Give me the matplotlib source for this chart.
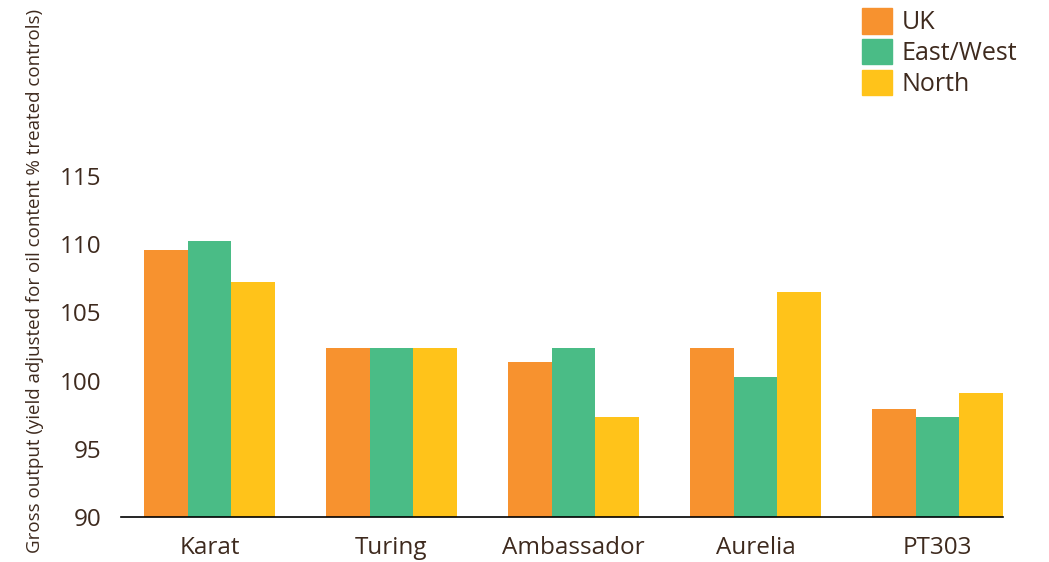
import numpy as np
import matplotlib.pyplot as plt
from matplotlib.patches import Patch

varieties = ["Karat", "Turing", "Ambassador", "Aurelia", "PT303"]
regions = ["UK", "East/West", "North"]
uk = [109.6, 102.4, 101.4, 102.4, 97.9]
east_west = [110.2, 102.4, 102.4, 100.3, 97.3]
north = [107.2, 102.4, 97.3, 106.5, 99.1]
y_ticks = [90, 95, 100, 105, 110, 115]

colors = ["#F7922F", "#4ABC86", "#FFC31A"]
text_col = "#3E2A1E"

plt.rcParams["font.family"] = ["Open Sans", "DejaVu Sans"]

fig = plt.figure(figsize=(10.49, 5.62), dpi=100)
ax = fig.add_axes([121 / 1049, 1 - 517 / 562, (1003 - 121) / 1049, (517 - 176) / 562])

x = np.arange(len(varieties))
w = 0.24
for i, (vals, c) in enumerate(zip([uk, east_west, north], colors)):
    ax.bar(x + (i - 1) * w, np.array(vals) - 90, width=w, bottom=90, color=c, label=regions[i])

ax.set_ylim(90, 115)
ax.set_xlim(-0.486, 4.36)
ax.set_yticks(y_ticks)
ax.set_xticks(x)
ax.set_xticklabels(varieties)
ax.tick_params(axis="both", length=0, labelsize=17.5, colors=text_col)
ax.tick_params(axis="y", pad=14)
ax.tick_params(axis="x", pad=14)
for s in ["top", "right", "left"]:
    ax.spines[s].set_visible(False)
ax.spines["bottom"].set_color("black")
ax.spines["bottom"].set_linewidth(1.2)

fig.text(35 / 1049, 1 - 281 / 562, "Gross output (yield adjusted for oil content % treated controls)",
         rotation=90, ha="center", va="center", fontsize=13.5, color=text_col)

handles = [Patch(color=c) for c in colors]
leg = fig.legend(handles, regions, loc="upper left", bbox_to_anchor=(857 / 1049, 1 - 3 / 562),
                 frameon=False, fontsize=18, handlelength=1.2, handleheight=1.2,
                 labelspacing=0.14, handletextpad=0.4, borderpad=0.2, borderaxespad=0)
for t in leg.get_texts():
    t.set_color(text_col)

fig.savefig("out.png", dpi=100)
